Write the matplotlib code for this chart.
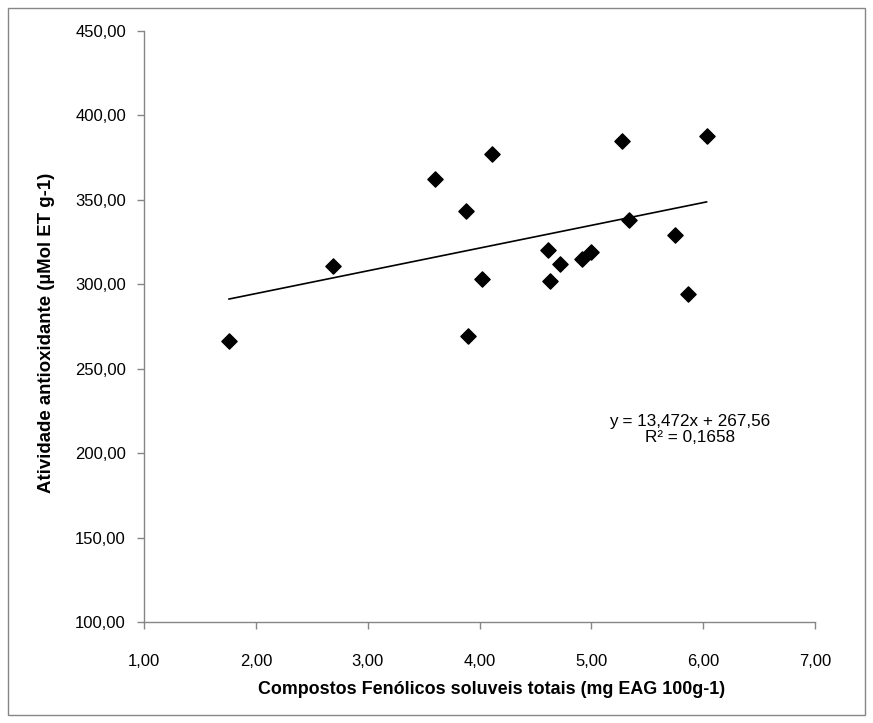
import matplotlib
matplotlib.use('Agg')
import matplotlib.pyplot as plt
from matplotlib.patches import Rectangle

plt.rcParams['font.family'] = ['Liberation Sans', 'DejaVu Sans']

# --- dados ---
fenolicos = [1.76, 2.69, 3.60, 3.88, 3.90, 4.02, 4.11, 4.61, 4.63, 4.72,
             4.92, 5.00, 5.27, 5.34, 5.75, 5.86, 6.03]
atividade = [266.6, 311.0, 362.5, 343.2, 269.2, 303.1, 376.9, 320.5, 301.7, 311.8,
             315.1, 318.9, 384.6, 337.8, 328.9, 294.2, 387.9]
slope = 13.472
intercept = 267.56
eq_text = 'y = 13,472x + 267,56\nR² = 0,1658'
xticks = [1, 2, 3, 4, 5, 6, 7]
yticks = [100, 150, 200, 250, 300, 350, 400, 450]

fig = plt.figure(figsize=(8.73, 7.23), dpi=100)
ax = fig.add_axes([0.165, 0.1397, 0.7686, 0.8174])

ax.scatter(fenolicos, atividade, marker='D', s=60, color='black', zorder=3)

# linha de tendência
x0, x1 = min(fenolicos), max(fenolicos)
ax.plot([x0, x1], [slope * x0 + intercept, slope * x1 + intercept],
        color='black', lw=1.2)

ax.text(5.88, 214, eq_text, ha='center', va='center', fontsize=12.3,
        linespacing=1.15)

ax.set_xlim(1, 7)
ax.set_ylim(100, 450)
ax.set_xticks(xticks)
ax.set_yticks(yticks)
ax.set_xticklabels([f'{v:.2f}'.replace('.', ',') for v in xticks])
ax.set_yticklabels([f'{v:.2f}'.replace('.', ',') for v in yticks])
ax.tick_params(direction='out', length=5, width=1, color='#868686',
               labelsize=12, colors='#868686', labelcolor='black')
ax.tick_params(axis='x', pad=18)
ax.tick_params(axis='y', pad=8)

for side in ['top', 'right']:
    ax.spines[side].set_visible(False)
for side in ['left', 'bottom']:
    ax.spines[side].set_color('#868686')
    ax.spines[side].set_linewidth(1)

ax.set_xlabel('Compostos Fenólicos soluveis totais (mg EAG 100g-1)',
              fontsize=12.9, fontweight='bold')
ax.set_ylabel('Atividade antioxidante (µMol ET g-1)',
              fontsize=13.4, fontweight='bold')
ax.xaxis.set_label_coords(0.518, -0.1)
ax.yaxis.set_label_coords(-0.133, 0.49)

# moldura externa
fig.patches.append(Rectangle((8 / 873, 8 / 723), 857 / 873, 707 / 723,
                             transform=fig.transFigure, fill=False,
                             edgecolor='#868686', lw=1))

fig.savefig('out.png', dpi=100)
